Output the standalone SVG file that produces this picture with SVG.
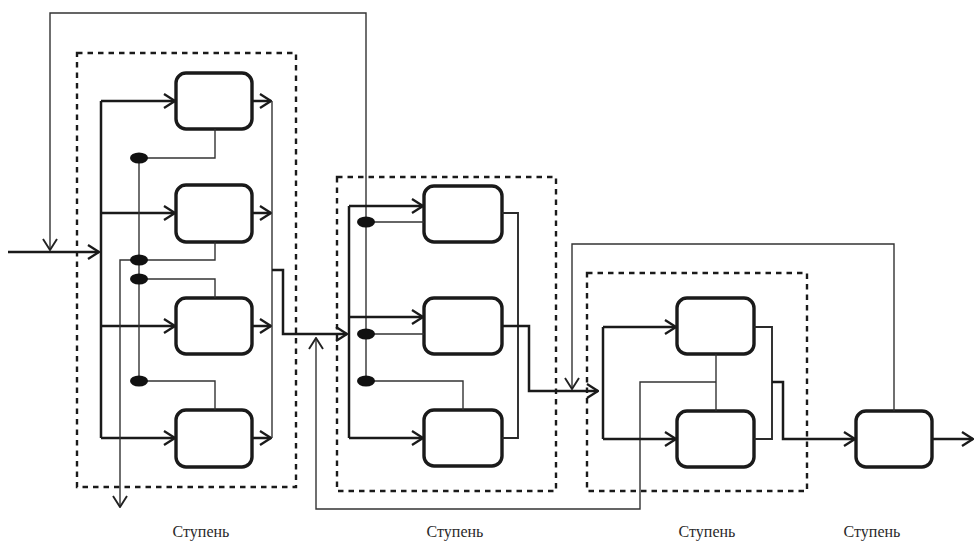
<svg xmlns="http://www.w3.org/2000/svg" width="974" height="546" viewBox="0 0 974 546">
  <style>
    .stage { fill: none; stroke: #1a1a1a; stroke-width: 2.4; stroke-dasharray: 5.5 5; }
    .unit { fill: #fff; stroke: #1a1a1a; stroke-width: 3.4; }
    .flow { fill: none; stroke: #1a1a1a; stroke-width: 2.5; }
    .sum { fill: none; stroke: #2a2a2a; stroke-width: 1.9; }
    .ctl { fill: none; stroke: #333; stroke-width: 1.4; }
    .dot { fill: #111; }
    .lbl { font-family: "Liberation Serif", "Times New Roman", serif; font-size: 16px; fill: #2a2a2a; text-anchor: middle; }
  </style>
  <defs>
    <marker id="arr" viewBox="0 0 13 16" refX="12" refY="8" markerWidth="13" markerHeight="16" markerUnits="userSpaceOnUse" orient="auto">
      <path d="M1,1 L12,8 L1,15" fill="none" stroke="#1a1a1a" stroke-width="2.3"/>
    </marker>
    <marker id="arrThin" viewBox="0 0 13 16" refX="12" refY="8" markerWidth="13" markerHeight="16" markerUnits="userSpaceOnUse" orient="auto">
      <path d="M1,1 L12,8 L1,15" fill="none" stroke="#222" stroke-width="1.9"/>
    </marker>
  </defs>

  <!-- stage enclosures and their units -->
  <g id="stage1">
    <rect class="stage" x="77" y="53" width="219" height="434"/>
    <rect class="unit" x="176" y="73" width="76" height="56" rx="10"/>
    <rect class="unit" x="176" y="185" width="76" height="57" rx="10"/>
    <rect class="unit" x="176" y="298" width="76" height="56" rx="10"/>
    <rect class="unit" x="176" y="410" width="76" height="57" rx="10"/>
  </g>
  <g id="stage2">
    <rect class="stage" x="337" y="177" width="219" height="314"/>
    <rect class="unit" x="424" y="186" width="78" height="56" rx="10"/>
    <rect class="unit" x="424" y="298" width="78" height="56" rx="10"/>
    <rect class="unit" x="424" y="410" width="78" height="56" rx="10"/>
  </g>
  <g id="stage3">
    <rect class="stage" x="587" y="273" width="220" height="218"/>
    <rect class="unit" x="677" y="298" width="77" height="56" rx="10"/>
    <rect class="unit" x="677" y="411" width="77" height="56" rx="10"/>
  </g>
  <g id="stage4">
    <rect class="unit" x="856" y="411" width="76" height="56" rx="10"/>
  </g>

  <g id="connectors">
    <!-- stage 1 -->
    <path class="flow" d="M8,252 H99" marker-end="url(#arr)"/>
    <path class="ctl" d="M366,381 V13 H50 V250" marker-end="url(#arrThin)"/>
    <path class="flow" d="M101,101 V438"/>
    <path class="flow" d="M101,101 H175" marker-end="url(#arr)"/>
    <path class="flow" d="M101,213 H175" marker-end="url(#arr)"/>
    <path class="flow" d="M101,326 H175" marker-end="url(#arr)"/>
    <path class="flow" d="M101,438 H175" marker-end="url(#arr)"/>
    <path class="ctl" d="M139,158 V381"/>
    <path class="ctl" d="M139,158 H215 V129"/>
    <path class="ctl" d="M139,260 H215 V242"/>
    <path class="ctl" d="M139,279 H215 V298"/>
    <path class="ctl" d="M139,381 H215 V410"/>
    <path class="ctl" d="M139,260 H120 V507" marker-end="url(#arrThin)"/>
    <path class="flow" d="M252,101 H271" marker-end="url(#arr)"/>
    <path class="flow" d="M252,213 H271" marker-end="url(#arr)"/>
    <path class="flow" d="M252,326 H271" marker-end="url(#arr)"/>
    <path class="flow" d="M252,438 H271" marker-end="url(#arr)"/>
    <path class="ctl" d="M272,101 V438"/>
    <path class="flow" d="M272,270 H283 V334 H347" marker-end="url(#arr)"/>

    <!-- stage 2 -->
    <path class="ctl" d="M716,354 V411"/>
    <path class="ctl" d="M716,382 H640 V509 H316 V338" marker-end="url(#arrThin)"/>
    <path class="flow" d="M349,206 V438"/>
    <path class="flow" d="M349,206 H423" marker-end="url(#arr)"/>
    <path class="flow" d="M349,317 H423" marker-end="url(#arr)"/>
    <path class="flow" d="M349,438 H423" marker-end="url(#arr)"/>
    <path class="ctl" d="M366,222 H424"/>
    <path class="ctl" d="M366,334 H424"/>
    <path class="ctl" d="M366,381 H463 V410"/>
    <path class="sum" d="M502,213 H518 V438 H502"/>
    <path class="flow" d="M502,326 H529 V391 H598" marker-end="url(#arr)"/>

    <!-- stage 3 -->
    <path class="ctl" d="M894,411 V244 H572 V389" marker-end="url(#arrThin)"/>
    <path class="flow" d="M603,327 V439"/>
    <path class="flow" d="M603,327 H676" marker-end="url(#arr)"/>
    <path class="flow" d="M603,439 H676" marker-end="url(#arr)"/>
    <path class="sum" d="M754,327 H772 V439 H754"/>
    <path class="flow" d="M772,382 H783 V439 H855" marker-end="url(#arr)"/>

    <!-- stage 4 -->
    <path class="flow" d="M932,439 H973" marker-end="url(#arr)"/>

    <!-- junction dots -->
    <ellipse class="dot" cx="139" cy="158" rx="9" ry="5.5"/>
    <ellipse class="dot" cx="139" cy="260" rx="9" ry="5.5"/>
    <ellipse class="dot" cx="139" cy="279" rx="9" ry="5.5"/>
    <ellipse class="dot" cx="139" cy="381" rx="9" ry="5.5"/>
    <ellipse class="dot" cx="366" cy="222" rx="9" ry="5.5"/>
    <ellipse class="dot" cx="366" cy="334" rx="9" ry="5.5"/>
    <ellipse class="dot" cx="366" cy="381" rx="9" ry="5.5"/>
  </g>

  <g id="labels">
    <text class="lbl" x="201" y="537">Ступень</text>
    <text class="lbl" x="455" y="537">Ступень</text>
    <text class="lbl" x="707" y="537">Ступень</text>
    <text class="lbl" x="872" y="537">Ступень</text>
  </g>
</svg>
